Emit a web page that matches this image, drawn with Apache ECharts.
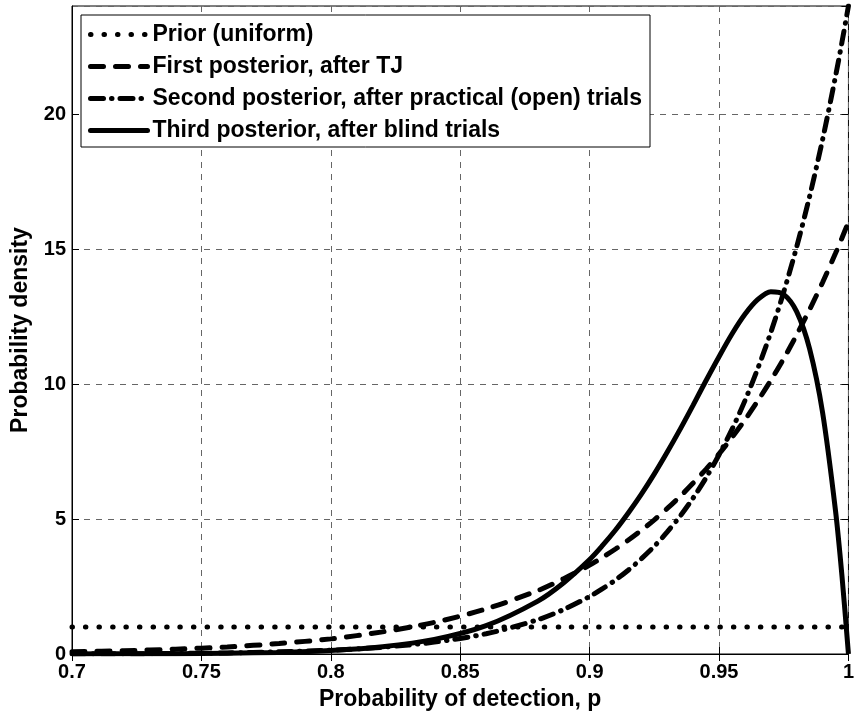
<!DOCTYPE html>
<html>
<head>
<meta charset="utf-8">
<script src="https://cdn.jsdelivr.net/npm/echarts@6/dist/echarts.min.js"></script>
<style>
    html, body { margin: 0; padding: 0; background: #fff; }
    #echarts { width: 857px; height: 719px; }
</style>
</head>
<body>
<div id="echarts"></div>
<script>
// 横轴: 检测概率 p
var pValues = [0.70, 0.72, 0.74, 0.76, 0.78, 0.80, 0.82, 0.84, 0.86, 0.88, 0.89,
    0.900, 0.905, 0.910, 0.915, 0.920, 0.925, 0.930, 0.935, 0.940, 0.945,
    0.950, 0.955, 0.960, 0.965, 0.970, 0.975, 0.980, 0.985, 0.990, 0.995, 0.9975, 1.000];

// 各曲线的概率密度
var priorDensity = [1, 1, 1, 1, 1, 1, 1, 1, 1, 1, 1,
    1, 1, 1, 1, 1, 1, 1, 1, 1, 1,
    1, 1, 1, 1, 1, 1, 1, 1, 1, 1, 1, 1];
var firstPosterior = [0.08, 0.12, 0.18, 0.26, 0.39, 0.56, 0.82, 1.17, 1.67, 2.35, 2.79,
    3.29, 3.58, 3.89, 4.22, 4.58, 4.97, 5.39, 5.84, 6.33, 6.85,
    7.41, 8.02, 8.67, 9.38, 10.13, 10.94, 11.82, 12.76, 13.76, 14.84, 15.41, 16.0];
var secondPosterior = [0.01, 0.01, 0.02, 0.04, 0.08, 0.14, 0.25, 0.44, 0.75, 1.27, 1.65,
    2.13, 2.42, 2.74, 3.11, 3.53, 3.99, 4.52, 5.11, 5.78, 6.53,
    7.38, 8.32, 9.38, 10.58, 11.91, 13.41, 15.08, 16.95, 19.05, 21.39, 22.66, 24.0];
var thirdPosterior = [0.00, 0.01, 0.01, 0.03, 0.06, 0.13, 0.27, 0.54, 1.05, 1.96, 2.64,
    3.50, 4.02, 4.59, 5.23, 5.92, 6.67, 7.48, 8.33, 9.22, 10.13,
    11.01, 11.85, 12.58, 13.13, 13.42, 13.32, 12.68, 11.30, 8.95, 5.31, 2.89, 0.00];

var seriesNames = [
    'Prior (uniform)',
    'First posterior, after TJ',
    'Second posterior, after practical (open) trials',
    'Third posterior, after blind trials'
];

var xTicks = { min: 0.7, max: 1, interval: 0.05 };
var yTicks = { min: 0, max: 24, interval: 5 };

var FONT = 'Liberation Sans, Arial, sans-serif';

function pairs(ys) {
    var out = [];
    for (var i = 0; i < pValues.length; i++) {
        out.push([pValues[i], ys[i]]);
    }
    return out;
}

// 线型
var dashTypes = [
    [0.5, 13],
    [13, 12],
    [13, 8, 0.5, 8],
    'solid'
];
var allData = [priorDensity, firstPosterior, secondPosterior, thirdPosterior];

var myChart = echarts.init(document.getElementById('echarts'));

var series = [];
for (var i = 0; i < seriesNames.length; i++) {
    series.push({
        name: seriesNames[i],
        type: 'line',
        showSymbol: false,
        symbol: 'none',
        smooth: 0.3,
        silent: true,
        data: pairs(allData[i]),
        itemStyle: { color: '#000' },
        lineStyle: {
            color: '#000',
            width: 5,
            type: dashTypes[i],
            cap: i == 3 ? 'butt' : 'round'
        }
    });
}

var option = {
    backgroundColor: '#fff',
    animation: false,
    grid: {
        left: 72,
        right: 6,
        top: 6,
        bottom: 65,
        show: true,
        borderColor: '#000',
        borderWidth: 1,
        containLabel: false
    },
    legend: {
        orient: 'vertical',
        left: 81,
        top: 15,
        padding: [8, 8, 5, 7],
        itemWidth: 57,
        itemHeight: 20,
        itemGap: 9,
        backgroundColor: '#fff',
        borderColor: '#000',
        borderWidth: 1,
        borderRadius: 0,
        selectedMode: false,
        itemStyle: { opacity: 0 },
        textStyle: {
            color: '#000',
            fontSize: 23,
            fontWeight: 'bold',
            fontFamily: FONT
        },
        lineStyle: {
            width: 5,
            cap: 'round'
        },
        data: seriesNames
    },
    xAxis: [
        {
            type: 'value',
            min: xTicks.min,
            max: xTicks.max,
            interval: xTicks.interval,
            name: 'Probability of detection, p',
            nameLocation: 'middle',
            nameGap: 34,
            nameTextStyle: { color: '#000', fontSize: 23, fontWeight: 'bold', fontFamily: FONT },
            axisLine: { show: true, onZero: false, lineStyle: { color: '#000', width: 1 } },
            axisTick: { show: true, inside: true, length: 7, lineStyle: { color: '#000' } },
            axisLabel: {
                color: '#000', fontSize: 20, fontWeight: 'bold', fontFamily: FONT, margin: 8,
                showMinLabel: true, showMaxLabel: true,
                formatter: function(v) { return String(+v.toFixed(2)); }
            },
            splitLine: { show: true, lineStyle: { color: '#666', width: 1, type: [6, 6] } }
        },
        {
            type: 'value',
            position: 'top',
            min: xTicks.min,
            max: xTicks.max,
            interval: xTicks.interval,
            axisLine: { show: false },
            axisTick: { show: true, inside: true, length: 7, lineStyle: { color: '#000' } },
            axisLabel: { show: false },
            splitLine: { show: false }
        }
    ],
    yAxis: [
        {
            type: 'value',
            min: yTicks.min,
            max: yTicks.max,
            interval: yTicks.interval,
            name: 'Probability density',
            nameLocation: 'middle',
            nameGap: 40,
            nameRotate: 90,
            nameTextStyle: { color: '#000', fontSize: 23, fontWeight: 'bold', fontFamily: FONT },
            axisLine: { show: true, onZero: false, lineStyle: { color: '#000', width: 1 } },
            axisTick: { show: true, inside: true, length: 7, lineStyle: { color: '#000' } },
            axisLabel: {
                color: '#000', fontSize: 20, fontWeight: 'bold', fontFamily: FONT, margin: 6,
                showMaxLabel: false
            },
            splitLine: { show: true, lineStyle: { color: '#666', width: 1, type: [6, 6] } }
        },
        {
            type: 'value',
            position: 'right',
            min: yTicks.min,
            max: yTicks.max,
            interval: yTicks.interval,
            axisLine: { show: false },
            axisTick: { show: true, inside: true, length: 7, lineStyle: { color: '#000' } },
            axisLabel: { show: false },
            splitLine: { show: false }
        }
    ],
    series: series
};

myChart.setOption(option, true);
</script>
</body>
</html>
